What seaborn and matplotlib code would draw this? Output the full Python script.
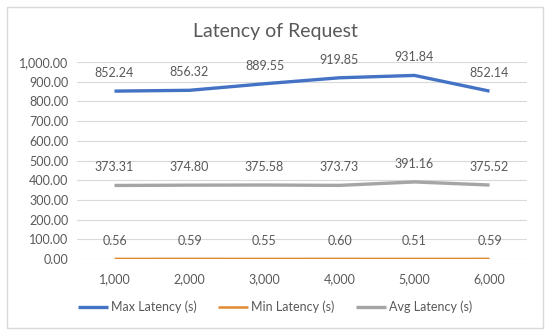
import matplotlib
matplotlib.use("Agg")
import matplotlib.pyplot as plt
import seaborn as sns
import pandas as pd
from matplotlib.patches import Rectangle

requests = [1000, 2000, 3000, 4000, 5000, 6000]
x_labels = ["1,000", "2,000", "3,000", "4,000", "5,000", "6,000"]
max_latency = [852.24, 856.32, 889.55, 919.85, 931.84, 852.14]
min_latency = [0.56, 0.59, 0.55, 0.60, 0.51, 0.59]
avg_latency = [373.31, 374.80, 375.58, 373.73, 391.16, 375.52]
series_names = ["Max Latency (s)", "Min Latency (s)", "Avg Latency (s)"]
colors = ["#4472C4", "#E08A30", "#A5A5A5"]
widths = [2.4, 1.8, 2.4]

rows = []
for name, vals in zip(series_names, [max_latency, min_latency, avg_latency]):
    for r, v in zip(requests, vals):
        rows.append({"Requests": r, "Latency": v, "Series": name})
df = pd.DataFrame(rows)

sns.set_theme(style="white")
plt.rcParams["font.family"] = ["Lato", "DejaVu Sans"]
text_color = "#595959"

fig = plt.figure(figsize=(5.5, 3.35), dpi=100)
ax = fig.add_axes([77 / 550, 1 - 259 / 335, 450 / 550, (259 - 62) / 335])

ax.set_yticks(range(0, 1001, 100))
ax.yaxis.grid(True, color="#D9D9D9", linewidth=0.8)
ax.set_axisbelow(True)

for name, color, lw in zip(series_names, colors, widths):
    sub = df[df["Series"] == name]
    sns.lineplot(data=sub, x="Requests", y="Latency", color=color, linewidth=lw,
                 ax=ax, label=name, legend=False, solid_capstyle="butt")
    for r, v in zip(sub["Requests"], sub["Latency"]):
        ax.annotate(f"{v:,.2f}", (r, v), xytext=(0, 13), textcoords="offset points",
                    ha="center", va="center", fontsize=9, color=text_color)

ax.set_xlim(500, 6500)
ax.set_ylim(0, 1000)
ax.set_xticks(requests)
ax.set_xticklabels(x_labels)
ax.set_yticklabels([f"{v:,.2f}" for v in range(0, 1001, 100)])
ax.tick_params(axis="both", labelsize=9, colors=text_color, length=0, pad=6)
ax.tick_params(axis="x", pad=10)
ax.set_xlabel("")
ax.set_ylabel("")
for s in ax.spines.values():
    s.set_visible(False)

fig.text(0.5, 1 - 32 / 335, "Latency of Request", ha="center", va="center",
         fontsize=14, color=text_color)

handles, labels = ax.get_legend_handles_labels()
fig.legend(handles, labels, loc="center", bbox_to_anchor=(0.5, 1 - 307 / 335), ncol=3,
           frameon=False, fontsize=9, labelcolor=text_color, handlelength=2.4,
           handletextpad=0.25, columnspacing=1.7)

fig.patches.append(Rectangle((7 / 550, 7 / 335), 536 / 550, 321 / 335, transform=fig.transFigure,
                             fill=False, edgecolor="#D9D9D9", linewidth=1))

fig.savefig("out.png", dpi=100, facecolor="white")
